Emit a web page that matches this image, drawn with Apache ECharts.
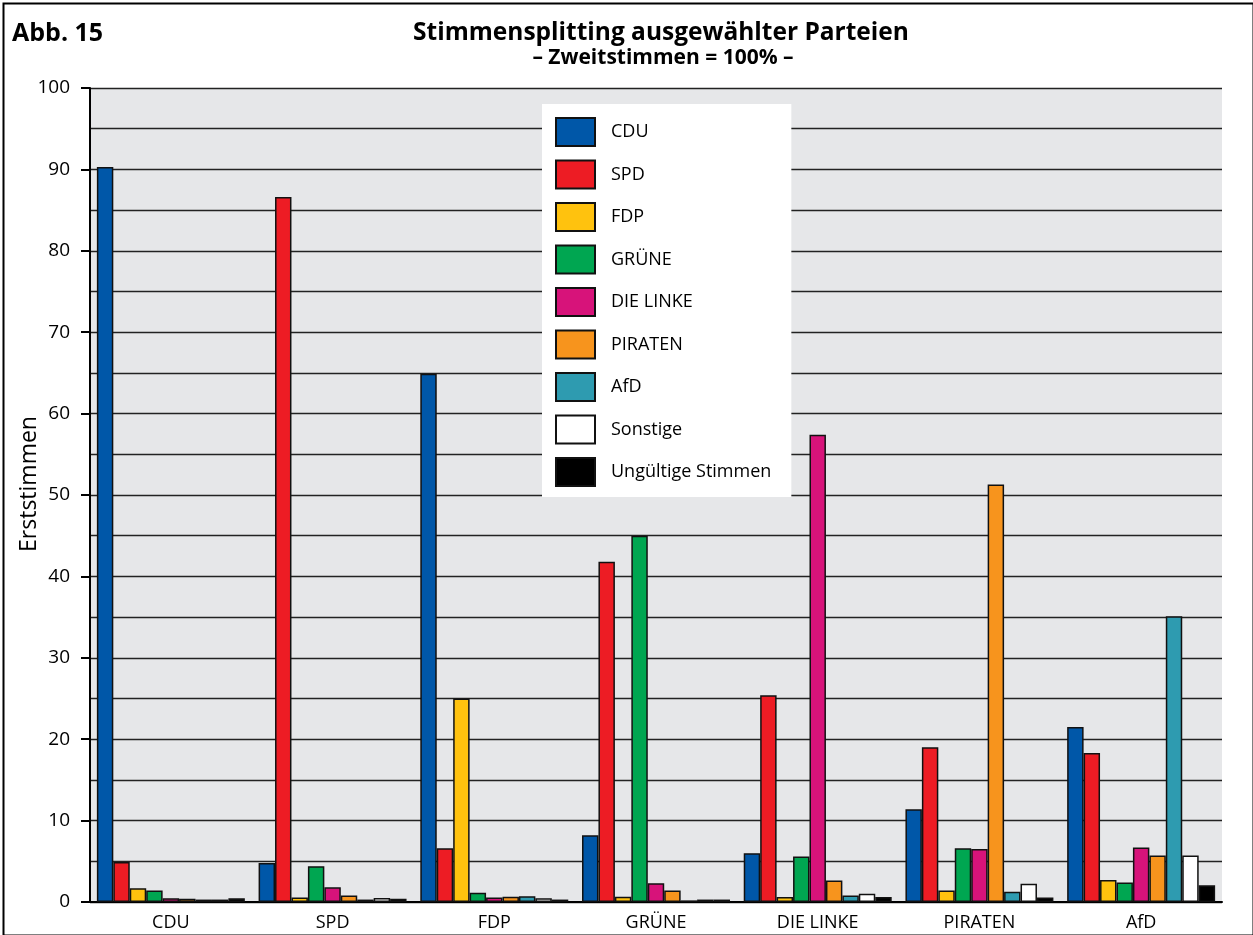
<!DOCTYPE html>
<html>
<head>
<meta charset="utf-8">
<script src="https://cdn.jsdelivr.net/npm/echarts@6/dist/echarts.min.js"></script>
<style>html,body{margin:0;padding:0;background:#fff}#c{width:1253px;height:935px}</style>
</head>
<body>
<div id="c"></div>
<script>
const categories = ['CDU', 'SPD', 'FDP', 'GRÜNE', 'DIE LINKE', 'PIRATEN', 'AfD'];
const seriesNames = ['CDU', 'SPD', 'FDP', 'GRÜNE', 'DIE LINKE', 'PIRATEN', 'AfD', 'Sonstige', 'Ungültige Stimmen'];
const colors = ['#0057a8', '#ed1c24', '#ffc20e', '#00a651', '#d7137a', '#f7941d', '#2e9bb0', '#ffffff', '#000000'];
const cdu      = [90.3, 4.8, 64.9, 8.2, 6.0, 11.4, 21.5];
const spd      = [4.9, 86.6, 6.6, 41.8, 25.4, 19.0, 18.3];
const fdp      = [1.7, 0.55, 25.0, 0.65, 0.6, 1.4, 2.7];
const gruene   = [1.4, 4.4, 1.15, 45.0, 5.6, 6.6, 2.4];
const linke    = [0.45, 1.8, 0.55, 2.3, 57.4, 6.5, 6.7];
const piraten  = [0.4, 0.8, 0.65, 1.4, 2.65, 51.3, 5.7];
const afd      = [0.3, 0.3, 0.7, 0.2, 0.8, 1.25, 35.1];
const sonstige = [0.3, 0.5, 0.45, 0.3, 1.0, 2.25, 5.7];
const ungueltig= [0.45, 0.4, 0.3, 0.3, 0.6, 0.55, 2.05];
const values = [cdu, spd, fdp, gruene, linke, piraten, afd, sonstige, ungueltig];
const yTicks = [0, 10, 20, 30, 40, 50, 60, 70, 80, 90, 100];

const font = '"Open Sans", "Noto Sans", sans-serif';
const chart = echarts.init(document.getElementById('c'));
chart.setOption({
  animation: false,
  textStyle: { fontFamily: font },
  graphic: [
    { type: 'rect', left: 1, top: 1, shape: { width: 1250, height: 932 }, style: { fill: 'none', stroke: '#000', lineWidth: 2 }, z: 100 },
    { type: 'text', x: 12, y: 34, style: { text: 'Abb. 15', font: 'bold 25px ' + font, fill: '#000', verticalAlign: 'middle' } },
    { type: 'text', x: 661, y: 33, style: { text: 'Stimmensplitting ausgewählter Parteien', font: 'bold 24.5px ' + font, fill: '#000', align: 'center', verticalAlign: 'middle' } },
    { type: 'text', x: 663, y: 58, style: { text: '– Zweitstimmen = 100% –', font: 'bold 21px ' + font, fill: '#000', align: 'center', verticalAlign: 'middle' } },
    { type: 'text', x: 29, y: 484, rotation: Math.PI / 2, style: { text: 'Erststimmen', font: '23px ' + font, fill: '#000', align: 'center', verticalAlign: 'middle' } }
  ],
  grid: { left: 90, right: 31, top: 88, bottom: 33, show: true, backgroundColor: '#e6e7e9', borderWidth: 0 },
  legend: {
    orient: 'vertical', left: 542, top: 104,
    data: seriesNames,
    backgroundColor: '#fff',
    padding: [13, 20, 10, 13],
    itemWidth: 39, itemHeight: 28, itemGap: 12.5,
    icon: 'rect',
    textStyle: { fontSize: 18, color: '#000', padding: [0, 0, 0, 11], fontFamily: font }
  },
  xAxis: {
    type: 'category', data: categories,
    axisLine: { lineStyle: { color: '#000', width: 2 } },
    axisTick: { show: false },
    axisLabel: { color: '#000', fontSize: 18, margin: 12 }
  },
  yAxis: {
    type: 'value', min: 0, max: 100, interval: 10,
    axisLine: { show: true, lineStyle: { color: '#000', width: 2 } },
    axisTick: { show: true, length: 9, lineStyle: { color: '#000', width: 2 } },
    axisLabel: { color: '#000', fontSize: 19, margin: 20, customValues: yTicks },
    splitLine: { lineStyle: { color: '#222', width: 1.3 } },
    minorTick: { show: false, splitNumber: 2 },
    minorSplitLine: { show: true, lineStyle: { color: '#222', width: 1.3 } }
  },
  series: seriesNames.map((n, i) => ({
    name: n, type: 'bar', data: values[i],
    barGap: '0%', barCategoryGap: '8.5%',
    itemStyle: { color: colors[i], borderColor: '#111', borderWidth: 1.5 }
  }))
});
</script>
</body>
</html>
